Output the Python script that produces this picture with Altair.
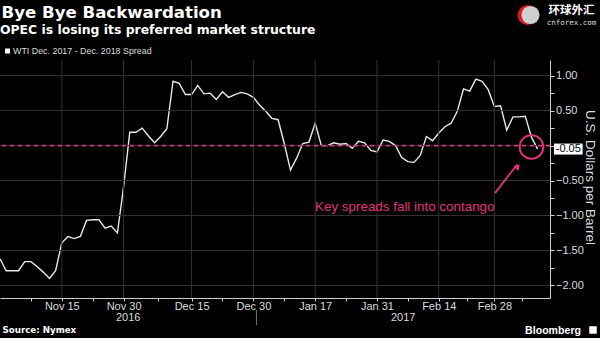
import altair as alt
import pandas as pd

# ---------------- data ----------------
holidays = ["2016-11-24", "2016-12-26", "2017-01-02", "2017-01-16", "2017-02-20"]
trading_days = [d.strftime("%Y-%m-%d") for d in pd.bdate_range("2016-11-01", "2017-03-09")
                if d.strftime("%Y-%m-%d") not in holidays]

spread = [
    -1.62, -1.79, -1.79, -1.79, -1.66, -1.66, -1.73, -1.81, -1.90, -1.79,
    -1.39, -1.30, -1.33, -1.30, -1.07, -1.06, -1.06, -1.18, -1.15, -1.25,
    -0.59, 0.19, 0.19, 0.25, 0.14, 0.04, 0.13, 0.24, 0.92, 0.89,
    0.73, 0.73, 0.86, 0.74, 0.75, 0.66, 0.77, 0.69, 0.73, 0.76,
    0.74, 0.69, 0.58, 0.49, 0.39, 0.37, 0.03, -0.35, -0.18, 0.03,
    0.05, 0.32, 0.00, 0.00, 0.04, 0.02, 0.03, -0.04, 0.06, 0.04,
    -0.07, -0.09, 0.08, 0.06, 0.00, -0.17, -0.23, -0.24, -0.14, 0.13,
    0.07, 0.18, 0.27, 0.32, 0.49, 0.81, 0.78, 0.95, 0.92, 0.80,
    0.56, 0.57, 0.22, 0.41, 0.41, 0.42, 0.12, -0.05,
]

tick_dates = ["2016-11-15", "2016-11-30", "2016-12-15", "2016-12-30",
              "2017-01-17", "2017-01-31", "2017-02-14", "2017-02-28"]
tick_labels = ["Nov 15", "Nov 30", "Dec 15", "Dec 30", "Jan 17", "Jan 31", "Feb 14", "Feb 28"]
years = ["2016", "2017"]
y_major = [-2.0, -1.5, -1.0, -0.5, 0.0, 0.5, 1.0]
y_minor = [-1.75, -1.25, -0.75, -0.25, 0.25, 0.75]
last_label = "-0.05"
last_value = -0.05
annotation = "Key spreads fall into contango"

PINK = "#e0337f"
GRID = "#333333"
AX = "#cfcfcf"
LBL = "#dcdcdc"
FONT = "Liberation Sans"

df = pd.DataFrame({"idx": list(range(len(trading_days))), "date": trading_days, "spread": spread})
major_idx = [trading_days.index(d) for d in tick_dates]
minor_idx = ([major_idx[0] - 5] +
             [(a + b) / 2 for a, b in zip(major_idx[:-1], major_idx[1:])] +
             [major_idx[-1] + 4.5])
divider = trading_days.index("2017-01-03") - 0.5
x_max = 89
year_pos = [divider / 2, (divider + x_max) / 2]

xs = alt.Scale(domain=[0, x_max], nice=False, zero=False)
ys = alt.Scale(domain=[-2.18, 1.224], nice=False, zero=False)

label_expr = "''"
for i, l in reversed(list(zip(major_idx, tick_labels))):
    label_expr = f"datum.value == {i} ? '{l}' : ({label_expr})"

x_axis = alt.Axis(
    values=sorted(major_idx + minor_idx), labelExpr=label_expr, grid=False, title=None,
    tickSize=3, tickColor=AX, domainColor=AX, labelColor=LBL, labelFont=FONT,
    labelFontSize=11, labelPadding=-1, labelOverlap=False, labelFlush=False)
# the 0.00 label sits under the white "-0.05" last-value box, so it is left blank
y_axis = alt.Axis(
    orient="right", values=sorted(y_major + y_minor),
    labelExpr=("(abs(datum.value*2 - round(datum.value*2)) < 0.001 && abs(datum.value) > 0.001)"
               " ? format(datum.value, '.2f') : ''"),
    grid=False, title=None, tickSize=4, tickColor=AX, domainColor=AX, labelColor=LBL,
    labelFont=FONT, labelFontSize=11, labelPadding=1.5, labelOverlap=False, labelFlush=False)


def X(field):
    return alt.X(field, scale=xs, axis=x_axis)


def Y(field):
    return alt.Y(field, scale=ys, axis=y_axis)


def DX(v):
    return alt.XDatum(v, scale=xs, axis=x_axis)


def DY(v):
    return alt.YDatum(v, scale=ys, axis=y_axis)


one = pd.DataFrame({"a": [0]})


def txt(text, x, y, size, color="#ffffff", font=FONT, weight="normal",
        align="left", baseline="alphabetic", angle=0):
    return alt.Chart(one).mark_text(
        text=text, fontSize=size, font=font, fontWeight=weight, color=color,
        align=align, baseline=baseline, angle=angle
    ).encode(x=alt.value(x), y=alt.value(y))


# ---------------- layers ----------------
line = alt.Chart(df).mark_line(color="#e8e8e8", strokeWidth=1.4).encode(
    x=X("idx:Q"), y=Y("spread:Q"))
hgrid = alt.Chart(pd.DataFrame({"v": y_major})).mark_rule(color=GRID, strokeWidth=1).encode(
    y=Y("v:Q"))
vgrid = alt.Chart(pd.DataFrame({"idx": major_idx})).mark_rule(color=GRID, strokeWidth=1).encode(
    x=X("idx:Q"))
zero = alt.Chart(one).mark_rule(color=PINK, strokeWidth=1.6, strokeDash=[4, 4]).encode(
    y=DY(0))

circle = alt.Chart(one).mark_point(shape="circle", filled=False, color=PINK, strokeWidth=2,
                                   size=555, opacity=1).encode(x=DX(86.0), y=DY(-0.02))
arrow = alt.Chart(one).mark_rule(color=PINK, strokeWidth=1.8).encode(
    x=DX(80.1), y=DY(-0.68), x2=alt.X2Datum(83.7), y2=alt.Y2Datum(-0.27))
arrow_head = alt.Chart(one).mark_point(shape="triangle-up", filled=True, color=PINK, size=45,
                                       angle=41, opacity=1).encode(x=DX(83.8), y=DY(-0.30))
note = alt.Chart(one).mark_text(text=annotation, color=PINK, fontSize=13.4, font=FONT,
                                align="center", baseline="middle").encode(
    x=DX(65.5), y=DY(-0.876))

box = alt.Chart(one).mark_point(shape="M-1,-0.383L1,-0.383L1,0.383L-1,0.383Z", filled=True,
                                color="#ffffff", size=824, opacity=1).encode(
    x=alt.value(568.3), y=DY(last_value))
box_text = alt.Chart(one).mark_text(text=last_label, color="#000000", fontSize=11, font=FONT,
                                    align="center", baseline="middle").encode(
    x=alt.value(568.3), y=DY(last_value))

year_labels = alt.Chart(pd.DataFrame({"year": years, "pos": year_pos})).mark_text(
    color=LBL, fontSize=11, font=FONT, align="center", baseline="middle").encode(
    x=X("pos:Q"), y=alt.value(258), text="year:N")
divider_rule = alt.Chart(one).mark_rule(color="#777777", strokeWidth=1).encode(
    x=DX(divider), y=alt.value(250), y2=alt.value(265))

title = txt("Bye Bye Backwardation", 1.5, -41.7, 16.6, font="DejaVu Sans", weight="bold")
subtitle = txt("OPEC is losing its preferred market structure", 0, -25.6, 12.4,
               font="DejaVu Sans", weight="bold")
legend_sq = alt.Chart(one).mark_square(color="#ffffff", size=25, opacity=1).encode(
    x=alt.value(7.5), y=alt.value(-9))
legend_txt = txt("WTI Dec. 2017 - Dec. 2018 Spread", 13, -6, 8.9, color=LBL)
ytitle = txt("U.S. Dollars per Barrel", 590, 117.5, 13.5, color=LBL, align="center",
             baseline="middle", angle=90)
source = txt("Source: Nymex", 2.5, 273, 8.7, font="DejaVu Sans", weight="bold")
bloomberg = txt("Bloomberg", 581, 274, 10.6, weight="bold", align="right")
bb_icon = alt.Chart(one).mark_square(color="#ffffff", size=56, opacity=1).encode(
    x=alt.value(593), y=alt.value(270))

logo_red = alt.Chart(one).mark_point(shape="circle", filled=True, color="#d81a22", size=400,
                                     opacity=1).encode(x=alt.value(527.5), y=alt.value(-45))
logo_white = alt.Chart(one).mark_point(shape="circle", filled=True, color="#cfcfcf", size=330,
                                       opacity=1).encode(x=alt.value(530.5), y=alt.value(-45))
logo_cn = txt("环球外汇", 571.5, -49.5, 11.5, font="Noto Sans CJK SC", weight="bold",
              align="center", baseline="middle")
logo_en = txt("cnforex.com", 571.5, -37.5, 7.5, font="DejaVu Sans Mono", color=LBL,
              align="center", baseline="middle")

chart = alt.layer(
    line, hgrid, vgrid, zero, circle, arrow, arrow_head, note, box, box_text,
    year_labels, divider_rule, title, subtitle, legend_sq, legend_txt, ytitle,
    source, bloomberg, bb_icon, logo_red, logo_white, logo_cn, logo_en,
).properties(
    width=550, height=238,
    padding={"left": 0, "top": 60, "right": 50, "bottom": 40},
    autosize=alt.AutoSizeParams(type="none"),
    background="#000000",
).configure_view(stroke=None)

chart.save("out.html", embed_options={"renderer": "svg", "actions": False})
